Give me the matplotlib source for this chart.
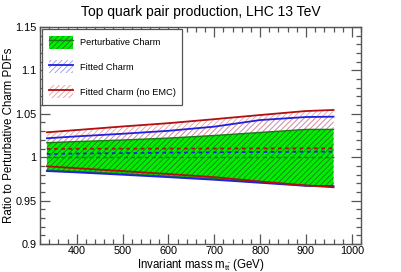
import matplotlib
matplotlib.use("Agg")
import matplotlib.pyplot as plt
from matplotlib.patches import Patch
from matplotlib.lines import Line2D
from matplotlib.ticker import MultipleLocator, FormatStrFormatter
import numpy as np

plt.rcParams['font.family'] = ['Liberation Sans', 'DejaVu Sans']
plt.rcParams['mathtext.fontset'] = 'custom'
plt.rcParams['mathtext.rm'] = 'Liberation Sans'
plt.rcParams['mathtext.it'] = 'Liberation Sans'
plt.rcParams['hatch.linewidth'] = 0.6

mtt = [335, 400, 500, 600, 700, 800, 900, 960]

pert_up = [1.0167, 1.018, 1.0198, 1.022, 1.025, 1.0285, 1.032, 1.032]
pert_lo = [0.985, 0.9835, 0.981, 0.978, 0.975, 0.971, 0.9675, 0.9668]
pert_c = [1.0, 1.0, 1.0, 1.0, 1.0, 1.0, 1.0, 1.0]

fit_up = [1.0218, 1.024, 1.027, 1.0304, 1.0352, 1.0428, 1.0463, 1.0467]
fit_lo = [0.984, 0.9825, 0.9798, 0.977, 0.974, 0.9705, 0.967, 0.9665]
fit_c = [1.0037, 1.0042, 1.0047, 1.0052, 1.0056, 1.006, 1.0063, 1.0064]

noemc_up = [1.0287, 1.0313, 1.0354, 1.0392, 1.0438, 1.0486, 1.0532, 1.0544]
noemc_lo = [0.9895, 0.9873, 0.984, 0.9806, 0.977, 0.972, 0.9674, 0.9653]
noemc_c = [1.0095, 1.0097, 1.0098, 1.0099, 1.01, 1.0101, 1.0102, 1.0102]

labels = ["Perturbative Charm", "Fitted Charm", "Fitted Charm (no EMC)"]

fig = plt.figure(figsize=(4.01, 2.72), dpi=100)
ax = fig.add_axes([0.0998, 0.103, 0.8005, 0.7977])

green = '#00ee00'
dgreen = '#1a7a1a'
blue = '#2020e0'
red = '#b01010'

ax.fill_between(mtt, fit_lo, fit_up, facecolor='none', edgecolor='#9999ee',
                hatch='//////', linewidth=0, zorder=1)
ax.fill_between(mtt, noemc_lo, noemc_up, facecolor='none', edgecolor='#ee9999',
                hatch='//////', linewidth=0, zorder=1.5)
ax.fill_between(mtt, pert_lo, pert_up, facecolor=green, edgecolor=dgreen,
                hatch='//////', linewidth=0, zorder=2)

lw = 1.3
ax.plot(mtt, pert_up, color=dgreen, lw=1.0, zorder=3)
ax.plot(mtt, pert_lo, color=dgreen, lw=1.0, zorder=3)
ax.plot(mtt, pert_c, color=dgreen, lw=1.0, ls=(0, (3, 2)), zorder=3)

ax.plot(mtt, fit_up, color=blue, lw=lw, zorder=4)
ax.plot(mtt, fit_lo, color=blue, lw=lw, zorder=4)
ax.plot(mtt, fit_c, color=blue, lw=lw, ls=(0, (2, 2)), zorder=4)

ax.plot(mtt, noemc_up, color=red, lw=lw, zorder=5)
ax.plot(mtt, noemc_lo, color=red, lw=lw, zorder=5)
ax.plot(mtt, noemc_c, color=red, lw=lw, ls=(0, (2, 2)), zorder=5)

ax.set_xlim(320, 1020)
ax.set_ylim(0.9, 1.15)
ax.xaxis.set_major_locator(MultipleLocator(100))
ax.xaxis.set_minor_locator(MultipleLocator(20))
ax.yaxis.set_major_locator(MultipleLocator(0.05))
ax.yaxis.set_minor_locator(MultipleLocator(0.01))
ax.yaxis.set_major_formatter(FormatStrFormatter('%g'))
ax.xaxis.set_major_formatter(FormatStrFormatter('%g'))

frame = '#555555'
for s in ax.spines.values():
    s.set_color(frame)
    s.set_linewidth(1.0)
ax.tick_params(which='both', direction='in', top=True, right=True,
               color=frame, labelsize=7.8, width=0.9)
ax.tick_params(which='major', length=7)
ax.tick_params(which='minor', length=3.5)
ax.tick_params(axis='x', which='major', pad=1.5)
ax.tick_params(axis='y', which='major', pad=2.5)

ax.set_xlabel(r'Invariant mass m$_{\mathregular{t\bar{t}}}$ (GeV)', fontsize=8.3, va='top')
ax.xaxis.set_label_coords(0.5, -0.06)
ax.set_ylabel('Ratio to Perturbative Charm PDFs', fontsize=8.3, va='center')
ax.yaxis.set_label_coords(-0.097, 0.5)
fig.text(0.5, 0.957, 'Top quark pair production, LHC 13 TeV', ha='center',
         va='center', fontsize=10)

handles = [
    (Patch(facecolor=green, edgecolor=dgreen, hatch='//////', linewidth=0),
     Line2D([], [], color=dgreen, lw=1.0)),
    (Patch(facecolor='none', edgecolor='#9999ee', hatch='//////', linewidth=0),
     Line2D([], [], color=blue, lw=1.3)),
    (Patch(facecolor='none', edgecolor='#ee9999', hatch='//////', linewidth=0),
     Line2D([], [], color=red, lw=1.3)),
]
leg = ax.legend(handles, labels, loc='upper left', fontsize=6.7,
                bbox_to_anchor=(0.006, 0.993), frameon=True, fancybox=False,
                handlelength=2.6, handleheight=1.8, labelspacing=1.25,
                borderpad=0.75, handletextpad=0.7, borderaxespad=0.0)
leg.get_frame().set_edgecolor(frame)
leg.get_frame().set_linewidth(0.9)
leg.get_frame().set_alpha(1)

fig.savefig('out.png', dpi=100)
